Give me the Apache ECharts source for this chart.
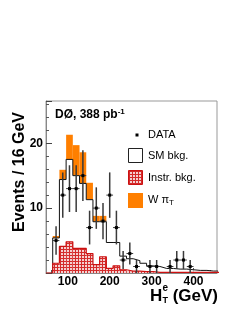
<!DOCTYPE html>
<html><head><meta charset="utf-8">
<script src="https://cdn.jsdelivr.net/npm/echarts@6/dist/echarts.min.js"></script>
<style>html,body{margin:0;padding:0;background:#fff}#c{width:247px;height:319px}</style>
</head><body><div id="c"></div>
<script>
// ---- data (bins of 16 GeV starting at 64 GeV) ----
const binStart = 64;
const binWidth = 16;
const smBkg  = [5.4,14.4,17.5,15.0,13.8,11.3,7.9,7.9,4.7,4.7,2.6,2.2,1.9,1.5,1.1,1.0,0.7,0.7,0.6,0.6,0.5,0.4,0.4,0.3,0.3];
const wPiT   = [0.3,1.5,3.8,4.7,4.8,2.6,0.9,0.9,0,0,0,0,0,0,0,0,0,0,0,0,0,0,0,0,0];
const instrBkg = [1.5,4.1,4.8,3.8,3.8,3.0,1.3,2.5,0.7,1.1,0.5,0.3,0.3,0.2,0.2,0.1,0.1,0.1,0.1,0.1,0.1,0.1,0.1,0.1,0.1];
const dataCounts = [5,12,13,13,15,7,10,8,12,7,2,3,1,null,1,1,null,1,2,2,1,null,null,null,null];
const dataErr    = [2.2,3.5,3.6,3.6,3.9,2.6,3.2,2.8,3.5,2.6,1.4,1.7,1.0,0,1.0,1.0,0,1.0,1.4,1.4,1.0,0,0,0,0];
const xMajor = [100,200,300,400];
const xMinor = [60,80,120,140,160,180,220,240,260,280,320,340,360,380,420,440];
const FONT = 'Liberation Sans, Arial, Helvetica, sans-serif';

const lo = i => binStart + i*binWidth;
const hi = i => binStart + (i+1)*binWidth;

// hatch pattern
const pc = document.createElement('canvas'); pc.width = 3; pc.height = 3;
const g = pc.getContext('2d');
g.fillStyle = '#f4d0d0'; g.fillRect(0,0,3,3);
g.fillStyle = '#d42a2a'; g.fillRect(0,0,3,1); g.fillRect(0,0,1,3);
const hatch = {image: pc, repeat: 'repeat'};

function rectSeries(data, style, z){
  return {
    type:'custom', z: z, clip: true, silent: true,
    data: data,
    renderItem(params, api){
      const p0 = api.coord([api.value(0), api.value(2)]);
      const p1 = api.coord([api.value(1), api.value(3)]);
      return {type:'rect', shape:{x:p0[0], y:p1[1], width:p1[0]-p0[0], height:p0[1]-p1[1]}, style: style};
    }
  };
}
function stepPoints(vals){
  const pts = [[lo(0),0]];
  vals.forEach((v,i)=>{ pts.push([lo(i),v]); pts.push([hi(i),v]); });
  pts.push([hi(vals.length-1),0]);
  return pts;
}

const sigRects = smBkg.map((v,i)=>[lo(i),hi(i),v,v+wPiT[i]]).filter(d=>d[3]>d[2]);
const smRects = smBkg.map((v,i)=>[lo(i),hi(i),0,v]);
const instrRects = instrBkg.map((v,i)=>[lo(i),hi(i),0,v]);
const instrOutline = [[48,0],[lo(0),0]].concat(stepPoints(instrBkg));
const pts = [];
dataCounts.forEach((v,i)=>{ if(v!==null) pts.push([(lo(i)+hi(i))/2, v, dataErr[i]]); });

const chart = echarts.init(document.getElementById('c'), null, {renderer:'canvas'});
chart.setOption({
  animation:false,
  backgroundColor:'#fff',
  grid:{left:46, right:30, top:101, bottom:46, show:true, borderColor:'#999', borderWidth:1, backgroundColor:'transparent'},
  xAxis:[{
    type:'value', min:48, max:456,
    axisLine:{show:true, onZero:false, lineStyle:{color:'#888'}},
    axisTick:{show:true, inside:true, length:5, customValues:xMajor, lineStyle:{color:'#555'}},
    axisLabel:{customValues:xMajor, color:'#000', fontWeight:'bold', fontSize:12, fontFamily:FONT, margin:3},
    splitLine:{show:false}
  },{
    type:'value', min:48, max:456, position:'bottom', offset:0,
    axisLine:{show:false},
    axisTick:{show:true, inside:true, length:3, customValues:xMinor, lineStyle:{color:'#555'}},
    axisLabel:{show:false}, splitLine:{show:false}
  }],
  yAxis:{
    type:'value', min:0, max:26.5, interval:10,
    axisLine:{show:true, lineStyle:{color:'#888'}},
    axisTick:{show:true, inside:true, length:6, lineStyle:{color:'#444'}},
    minorTick:{show:true, splitNumber:5, length:3, lineStyle:{color:'#555'}},
    axisLabel:{color:'#000', fontWeight:'bold', fontSize:12, fontFamily:FONT, margin:3, showMaxLabel:false,
      formatter: v => (v===0 ? '' : String(v))},
    splitLine:{show:false}
  },
  series:[
    rectSeries(sigRects, {fill:'#ff7f00'}, 1),
    rectSeries(smRects, {fill:'#ffffff'}, 2),
    {type:'line', z:3, data: stepPoints(smBkg), showSymbol:false, silent:true, clip:true,
      lineStyle:{color:'#111', width:1}},
    rectSeries(instrRects, {fill:hatch}, 4),
    {type:'line', z:5, data: instrOutline, showSymbol:false, silent:true, clip:true,
      lineStyle:{color:'#cc1111', width:1.2}},
    {type:'custom', z:6, clip:true, silent:true, data: pts,
      renderItem(params, api){
        const x = api.value(0), y = api.value(1), e = api.value(2);
        const c = api.coord([x,y]);
        const t = api.coord([x,y+e]), b = api.coord([x,Math.max(0,y-e)]);
        const l = api.coord([x-binWidth/2,y]), r = api.coord([x+binWidth/2,y]);
        return {type:'group', children:[
          {type:'line', shape:{x1:c[0],y1:t[1],x2:c[0],y2:b[1]}, style:{stroke:'#3a3a3a', lineWidth:1.5}},
          {type:'line', shape:{x1:l[0],y1:c[1],x2:r[0],y2:c[1]}, style:{stroke:'#3a3a3a', lineWidth:1}},
          {type:'rect', shape:{x:c[0]-1.5,y:c[1]-1.5,width:3,height:3}, style:{fill:'#000'}}
        ]};
      }
    }
  ],
  graphic:[
    {type:'text', x:20, y:172, rotation:Math.PI/2, style:{text:'Events / 16 GeV', font:'bold 16px '+FONT, fill:'#000', align:'center', verticalAlign:'middle'}},
    {type:'text', x:55, y:115, style:{text:'{a|DØ, 388 pb}{s|-1}', verticalAlign:'middle',
      rich:{a:{font:'bold 12px '+FONT, fill:'#000'}, s:{font:'bold 8px '+FONT, fill:'#000', verticalAlign:'top', padding:[0,0,6,0]}}}},
    // x axis name
    {type:'text', x:150, y:296, style:{text:'H', font:'bold 17px '+FONT, fill:'#000', verticalAlign:'middle'}},
    {type:'text', x:162.5, y:288, style:{text:'e', font:'bold 10px '+FONT, fill:'#000', verticalAlign:'middle'}},
    {type:'text', x:162.5, y:301, style:{text:'T', font:'bold 9px '+FONT, fill:'#000', verticalAlign:'middle'}},
    {type:'text', x:218, y:296, style:{text:'(GeV)', font:'bold 17px '+FONT, fill:'#000', align:'right', verticalAlign:'middle'}},
    // legend
    {type:'rect', shape:{x:135.5, y:133.5, width:3, height:3}, style:{fill:'#000'}},
    {type:'text', x:148, y:135, style:{text:'DATA', font:'11px '+FONT, fill:'#000', verticalAlign:'middle'}},
    {type:'rect', shape:{x:128.5, y:148.5, width:14, height:14}, style:{fill:'#fff', stroke:'#222', lineWidth:1}},
    {type:'text', x:148, y:156, style:{text:'SM bkg.', font:'11px '+FONT, fill:'#000', verticalAlign:'middle'}},
    {type:'rect', shape:{x:128.5, y:170.5, width:14, height:14}, style:{fill:hatch, stroke:'#cc1111', lineWidth:1}},
    {type:'text', x:148, y:178, style:{text:'Instr. bkg.', font:'11px '+FONT, fill:'#000', verticalAlign:'middle'}},
    {type:'rect', shape:{x:128, y:193, width:15, height:15}, style:{fill:'#ff7f00'}},
    {type:'text', x:148, y:200, style:{text:'{a|W π}{s|T}', verticalAlign:'middle',
      rich:{a:{font:'11px '+FONT, fill:'#000'}, s:{font:'8px '+FONT, fill:'#000', padding:[6,0,0,0]}}}}
  ]
});
</script>
</body></html>
